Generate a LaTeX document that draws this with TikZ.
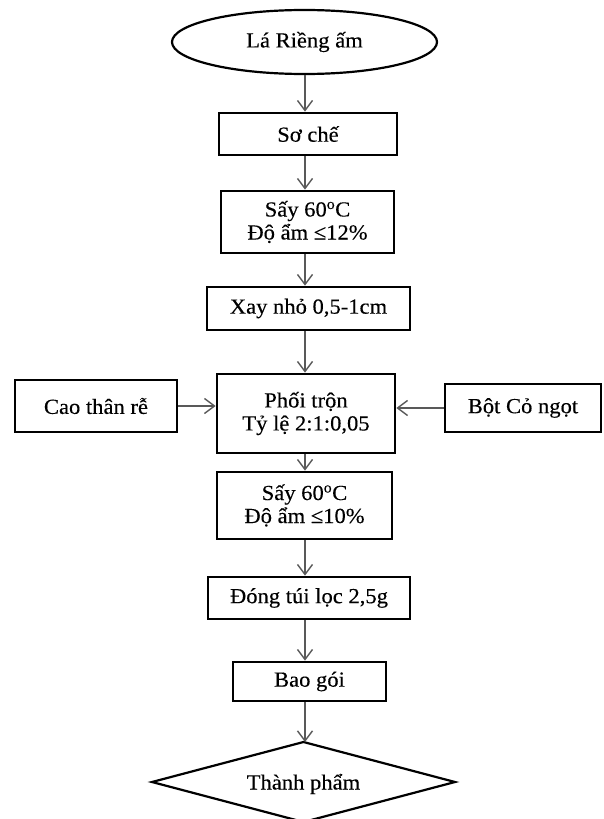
\documentclass[tikz,border=0pt]{standalone}
\usepackage{fontspec}
\setmainfont{Liberation Serif}[FakeStretch=1.05,FakeBold=0.25]
\usetikzlibrary{shapes.geometric,arrows.meta}
\begin{document}
\begin{tikzpicture}[x=1pt,y=-1pt,
  every node/.style={font=\fontsize{21.5}{23}\selectfont, align=center, inner sep=0pt},
  box/.style={draw=black, line width=2.8pt, fill=white, rectangle},
  oval/.style={draw=black, line width=2.2pt, ellipse},
  flow/.style={draw=black!65, line width=1.4pt, -{Straight Barb[length=10pt,width=15pt,line width=1.4pt]}}]
\clip (0,0) rectangle (603,819);
\fill[white] (0,0) rectangle (603,819);
\coordinate (spine) at (305,0);
\node[oval, minimum width=265pt, minimum height=64pt] (start) at (304.5,42) {Lá Riềng ấm};
\node[box, minimum width=178pt, minimum height=42pt] (so) at (308,134) {Sơ chế};
\node[box, minimum width=173pt, minimum height=62pt] (say1) at (307.5,222) {Sấy 60\textsuperscript{o}C\\Độ ẩm ≤12\%};
\node[box, minimum width=203pt, minimum height=43pt] (xay) at (308.5,308.5) {Xay nhỏ 0,5-1cm};
\node[box, minimum width=178pt, minimum height=79pt] (phoi) at (306,413.5) {Phối trộn\\Tỷ lệ 2:1:0,05};
\node[box, minimum width=162pt, minimum height=52pt] (cao) at (96,406) {Cao thân rễ};
\node[box, minimum width=156pt, minimum height=48pt] (bot) at (523,408) {Bột Cỏ ngọt};
\node[box, minimum width=175pt, minimum height=67pt] (say2) at (304.5,505.5) {Sấy 60\textsuperscript{o}C\\Độ ẩm ≤10\%};
\node[box, minimum width=202pt, minimum height=42pt] (dong) at (309,598) {Đóng túi lọc 2,5g};
\node[box, minimum width=153pt, minimum height=39pt] (bao) at (309.5,681.5) {Bao gói};
\node (tp) at (303.5,784) {Thành phẩm};
\coordinate (tpT) at (303.5,742);
\coordinate (tpL) at (152,782);
\coordinate (tpR) at (455,782);
\coordinate (tpB) at (303.5,822);
\draw[black, line width=2.2pt, line join=miter] (tpT) -- (tpR) -- (tpB) -- (tpL) -- cycle;
\draw[flow] (start.south -| spine) -- (so.north -| spine);
\draw[flow] (so.south -| spine) -- (say1.north -| spine);
\draw[flow] (say1.south -| spine) -- (xay.north -| spine);
\draw[flow] (xay.south -| spine) -- (phoi.north -| spine);
\draw[flow] (phoi.south -| spine) -- (say2.north -| spine);
\draw[flow] (say2.south -| spine) -- (dong.north -| spine);
\draw[flow] (dong.south -| spine) -- (bao.north -| spine);
\draw[flow] (bao.south -| spine) -- (tpT -| spine);
\draw[flow] (cao.east) -- (cao.east -| phoi.west);
\draw[flow] (bot.west) -- (bot.west -| phoi.east);
\end{tikzpicture}
\end{document}
